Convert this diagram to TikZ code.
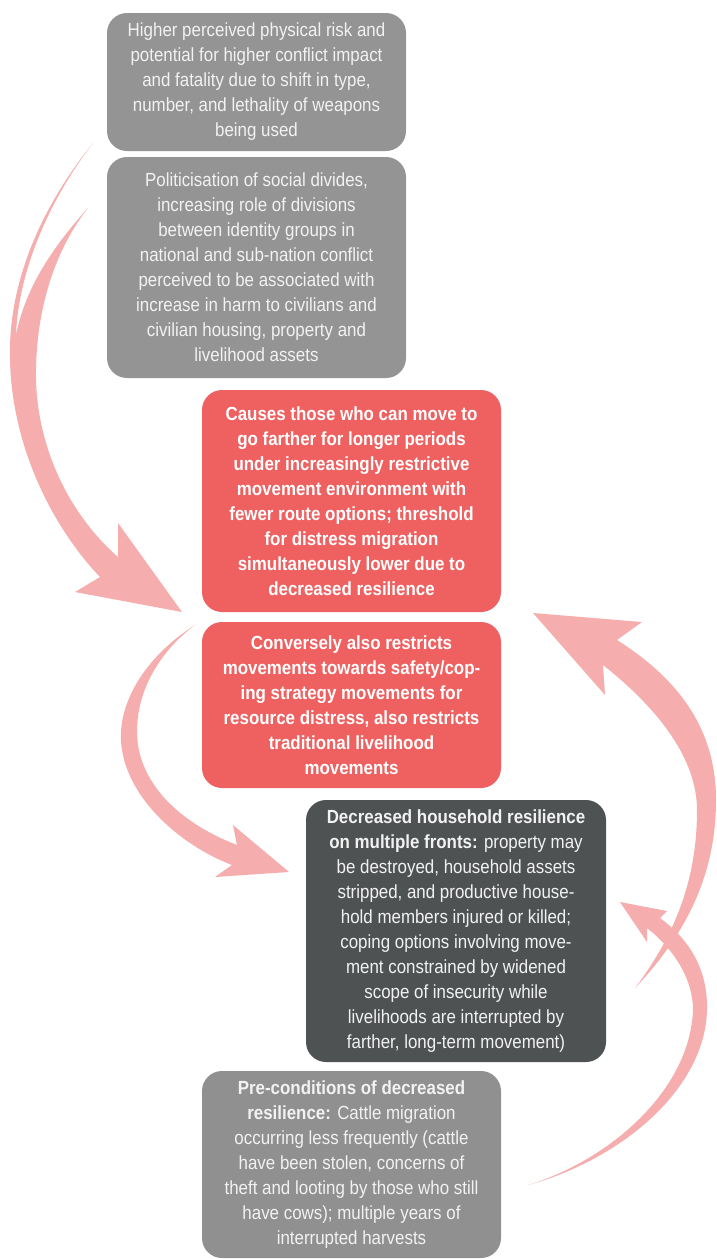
\documentclass[tikz,border=0pt]{standalone}
\usepackage{fontspec}
\setmainfont{Liberation Sans}[FakeStretch=0.89]
\definecolor{boxgray}{RGB}{147,148,147}
\definecolor{boxgraylow}{RGB}{143,144,143}
\definecolor{boxred}{RGB}{239,96,96}
\definecolor{boxdark}{RGB}{79,82,83}
\definecolor{arrowpink}{RGB}{245,173,173}
\definecolor{softwhite}{RGB}{242,242,242}
\tikzset{
  box/.style={rounded corners=20pt, minimum width=299pt, align=center,
    inner sep=4pt, font=\fontsize{19}{25}\selectfont, text=softwhite},
  graybox/.style={box, fill=boxgray},
  redbox/.style={box, fill=boxred, text=white, font=\fontsize{19}{25}\selectfont\bfseries},
  darkbox/.style={box, fill=boxdark},
  lowbox/.style={box, fill=boxgraylow},
  swoop/.style={fill=arrowpink, draw=none}
}
\begin{document}
\begin{tikzpicture}[x=1pt, y=-1pt]
\useasboundingbox (0,0) rectangle (716,1259);
\node [graybox, minimum height=138pt] (risk) at (256.5,82) {Higher perceived physical risk and\\potential for higher conflict impact\\and fatality due to shift in type,\\number, and lethality of weapons\\being used};
\node [graybox, minimum height=221pt] (divides) at (256.5,267.5) {Politicisation of social divides,\\increasing role of divisions\\between identity groups in\\national and sub-nation conflict\\perceived to be associated with\\increase in harm to civilians and\\civilian housing, property and\\livelihood assets};
\node [redbox, minimum height=222pt] (farther) at (351.5,501) {Causes those who can move to\\go farther for longer periods\\under increasingly restrictive\\movement environment with\\fewer route options; threshold\\for distress migration\\simultaneously lower due to\\decreased resilience};
\node [redbox, minimum height=166pt] (restricts) at (351.5,705) {Conversely also restricts\\movements towards safety/cop-\\ing strategy movements for\\resource distress, also restricts\\traditional livelihood\\movements};
\node [darkbox, minimum width=300pt, minimum height=262pt] (resilience) at (456,931) {\textbf{Decreased household resilience}\\\textbf{on multiple fronts:} property may\\be destroyed, household assets\\stripped, and productive house-\\hold members injured or killed;\\coping options involving move-\\ment constrained by widened\\scope of insecurity while\\livelihoods are interrupted by\\farther, long-term movement)};
\node [lowbox, minimum height=187pt] (precond) at (351.5,1164.5) {\textbf{Pre-conditions of decreased}\\\textbf{resilience:} Cattle migration\\occurring less frequently (cattle\\have been stolen, concerns of\\theft and looting by those who still\\have cows); multiple years of\\interrupted harvests};

% curved arrows
\fill [swoop] (93,143) .. controls (35,215) and (8,290) .. (10,360) .. controls (12,450) and (55,530) .. (100,577) -- (75,592) -- (182,612) -- (118,523) -- (118,557) .. controls (70,515) and (38,450) .. (36,380) .. controls (35,310) and (55,250) .. (88,208) .. controls (50,250) and (25,290) .. (16,335) .. controls (18,280) and (42,210) .. (93,143) -- cycle;
\fill [swoop] (195,625) .. controls (140,660) and (115,710) .. (122,750) .. controls (130,800) and (180,845) .. (232,865) -- (215,877) -- (289,872) -- (233,825) -- (237,845) .. controls (185,825) and (145,790) .. (138,745) .. controls (132,700) and (155,655) .. (195,625) -- cycle;
\fill [swoop] (635,988) .. controls (690,930) and (716,870) .. (716,800) .. controls (716,730) and (680,680) .. (617,640) -- (642,622) -- (533,613) -- (605,695) -- (603,665) .. controls (660,710) and (697,760) .. (697,810) .. controls (697,880) and (675,935) .. (635,988) -- cycle;
\fill [swoop] (528,1185) .. controls (620,1160) and (705,1090) .. (707,1010) .. controls (708,970) and (690,940) .. (660,918) -- (667,911) -- (620,902) -- (647,942) -- (647,928) .. controls (675,950) and (693,980) .. (693,1010) .. controls (690,1090) and (610,1160) .. (528,1185) -- cycle;
\end{tikzpicture}
\end{document}
